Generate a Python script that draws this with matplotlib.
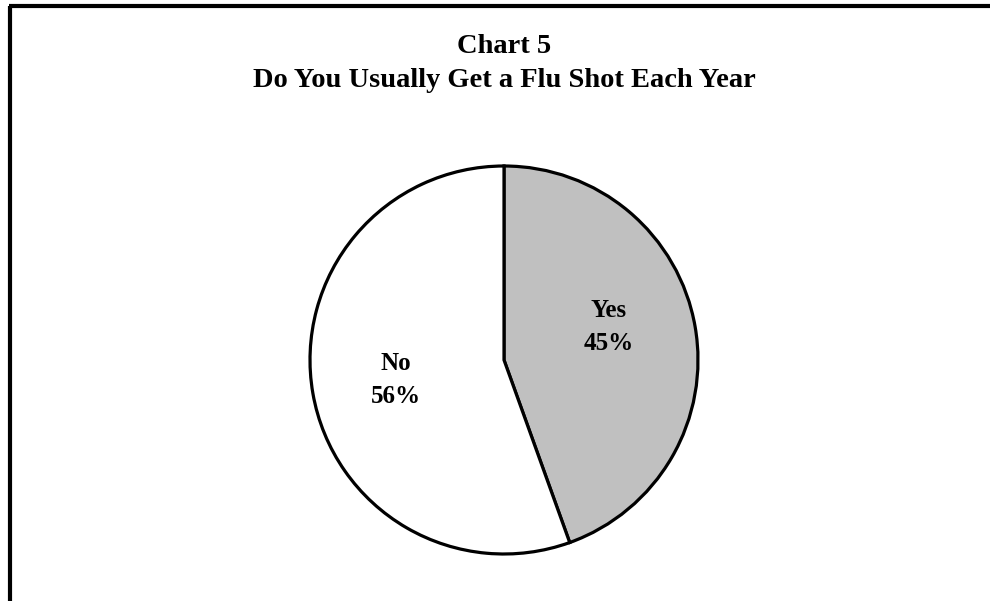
import matplotlib
matplotlib.use("Agg")
from matplotlib import pyplot as plt
from matplotlib.lines import Line2D

# data
categorias = ['Yes', 'No']
valores = [44.5, 55.5]
rotulos = ['45%', '56%']
cores = ['#c0c0c0', '#ffffff']

plt.rcParams['font.family'] = ['Liberation Serif', 'DejaVu Serif']

W, H = 990, 601
fig = plt.figure(figsize=(W/100, H/100), dpi=100)

# frame only on left and top, like the source
fig.add_artist(Line2D([10/W, 10/W], [0, 1 - 6/H], color='black', lw=3,
                      transform=fig.transFigure, solid_capstyle='butt'))
fig.add_artist(Line2D([8.5/W, 1], [1 - 6/H, 1 - 6/H], color='black', lw=3,
                      transform=fig.transFigure, solid_capstyle='butt'))

fig.text(504/W, 1 - 53/H, 'Chart 5', ha='center', va='baseline',
         fontsize=20.5, fontweight='bold')
fig.text(504/W, 1 - 87/H, 'Do You Usually Get a Flu Shot Each Year',
         ha='center', va='baseline', fontsize=20.5, fontweight='bold')

cx, cy, r = 504, 360, 194
m = 1.03
ax = fig.add_axes([(cx - r*m)/W, (H - cy - r*m)/H, 2*r*m/W, 2*r*m/H])
wedges, _ = ax.pie(valores, colors=cores, startangle=90, counterclock=False,
                   radius=1, wedgeprops=dict(edgecolor='black', linewidth=2.3))
ax.set_xlim(-m, m)
ax.set_ylim(-m, m)
ax.set_aspect('auto')
ax.axis('off')

# label positions in pixels of the original (x centre, baseline of first line)
posicoes = [(609, 317), (396, 370)]
for cat, rot, (px, py) in zip(categorias, rotulos, posicoes):
    x = (px - cx)/r
    y1 = (cy - py)/r
    y2 = (cy - py - 33)/r
    ax.text(x, y1, cat, ha='center', va='baseline', fontsize=18, fontweight='bold')
    ax.text(x, y2, rot, ha='center', va='baseline', fontsize=18, fontweight='bold')

fig.savefig('out.png', dpi=100)
